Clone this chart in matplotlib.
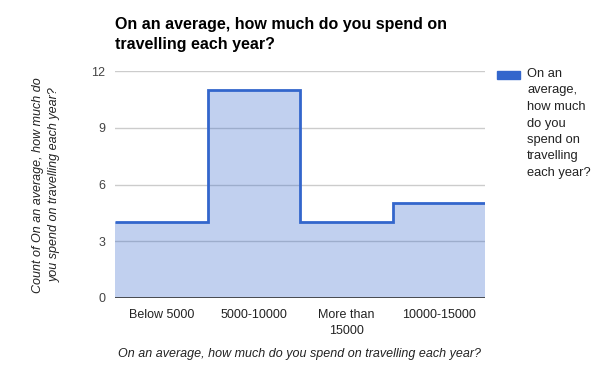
import matplotlib
matplotlib.use("Agg")
import matplotlib.pyplot as plt
import numpy as np
from matplotlib.patches import Rectangle

categories = ["Below 5000", "5000-10000", "More than\n15000", "10000-15000"]
counts = [4, 11, 4, 5]
yticks = [0, 3, 6, 9, 12]
title = "On an average, how much do you spend on\ntravelling each year?"
ylabel = "Count of On an average, how much do\nyou spend on travelling each year?"
xlabel = "On an average, how much do you spend on travelling each year?"
legend_label = "On an\naverage,\nhow much\ndo you\nspend on\ntravelling\neach year?"

plt.rcParams['font.family'] = ['Liberation Sans', 'DejaVu Sans']

fig = plt.figure(figsize=(6, 3.71), dpi=100)
ax = fig.add_axes([115/600, 1-298/371, 370/600, 227/371])

edges = np.arange(len(counts) + 1) - 0.5
for y in yticks[1:]:
    ax.axhline(y, color='#cccccc', lw=1, zorder=0)
ax.stairs(counts, edges, fill=True, color='#3366cc', alpha=0.3, lw=0, zorder=1)
ax.stairs(counts, edges, baseline=None, color='#3366cc', lw=2, zorder=3)
ax.axhline(0, color='#333333', lw=1.2, zorder=4)

ax.set_xlim(edges[0], edges[-1])
ax.set_ylim(0, 12)
ax.set_yticks(yticks)
ax.set_yticklabels([str(v) for v in yticks], fontsize=9, color='#444444')
ax.set_xticks(range(len(categories)))
ax.set_xticklabels(categories, fontsize=9, color='#222222', linespacing=1.4)
ax.tick_params(length=0, pad=8)
ax.tick_params(axis='y', pad=7)
for s in ax.spines.values():
    s.set_visible(False)

fig.text(115/600, 1-17/371, title, fontsize=11.5, fontweight='bold', va='top', ha='left', linespacing=1.45)
fig.text(300/600, 1-354/371, xlabel, fontsize=9, style='italic', ha='center', va='center', color='#222222')
fig.text(46/600, 1-185/371, ylabel, fontsize=9, style='italic', ha='center', va='center', rotation=90, color='#222222', linespacing=1.5)

# legend
fig.patches.append(Rectangle((497/600, 1-79/371), 23/600, 8/371, transform=fig.transFigure, color='#3366cc'))
fig.text(527/600, 1-68/371, legend_label, fontsize=9.3, va='top', ha='left', color='#222222', linespacing=1.5)

fig.savefig("out.png", dpi=100)
